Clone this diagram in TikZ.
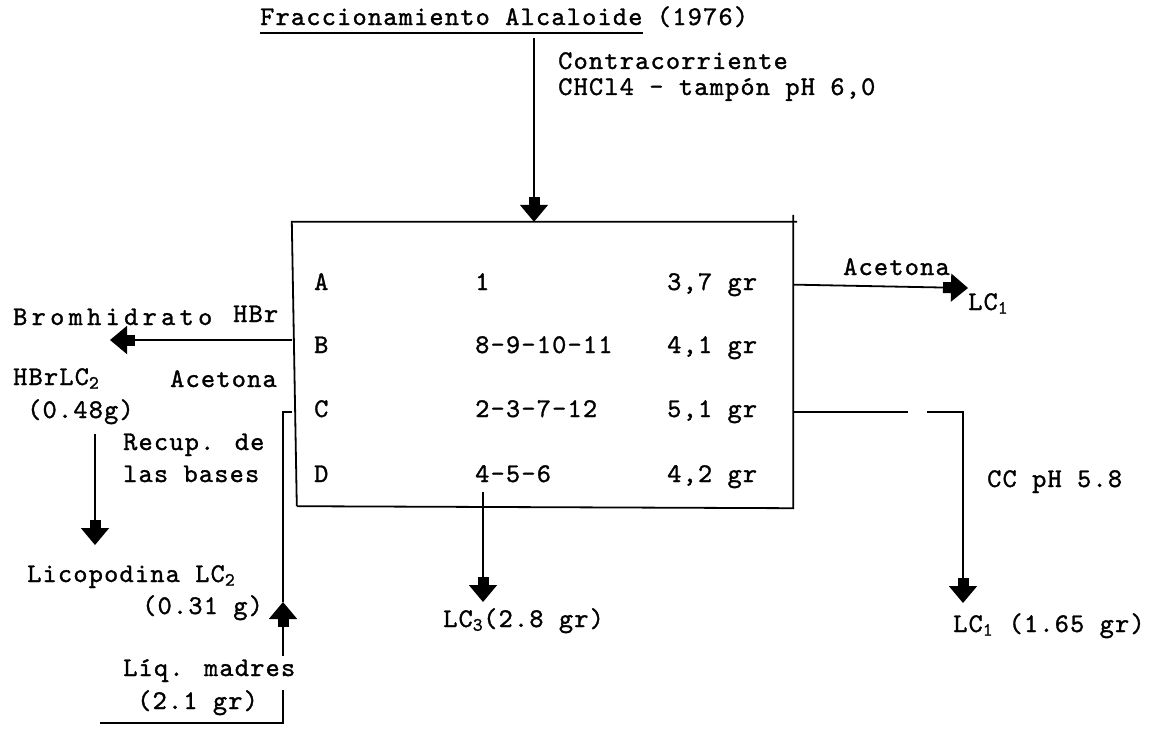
\documentclass[tikz,border=0pt]{standalone}
\usepackage{fontspec}
\newfontfamily\tw{lmmono10-regular.otf}[LetterSpace=4.5,FakeBold=1.2]
\newfontfamily\twwide{lmmono10-regular.otf}[LetterSpace=16,FakeBold=1.2]
\usetikzlibrary{arrows.meta}
\tikzset{
  lbl/.style={font=\tw\fontsize{27}{29}\selectfont, inner sep=0pt, anchor=base west},
  widelbl/.style={lbl, font=\twwide\fontsize{27}{29}\selectfont},
  wire/.style={line width=1.8pt},
  flow/.style={wire, -{Rectangle[width=11pt,length=8pt,sep=0pt]Triangle[width=28pt,length=17pt]}},
}
\begin{document}
\begin{tikzpicture}[x=1pt,y=-1pt]
\useasboundingbox (0,0) rectangle (1166,728);

% heading
\node[lbl] (titleA) at (260,25) {Fraccionamiento Alcaloide};
\node[lbl, anchor=base west] (titleB) at ([xshift=14pt]titleA.base east) {(1976)};
\draw[wire] ([yshift=-8pt]titleA.south west) -- ([yshift=-8pt]titleA.south east);

% feed into the separation
\node[lbl, align=left, anchor=north west] (feedTxt) at (558,52)
  {Contracorriente\\[-3pt]CHCl4 - tampón pH 6,0};

% fractionation table
\node[minimum width=501pt, minimum height=286pt, inner sep=0pt] (box) at (542.5,365) {};
\draw[wire] ([xshift=5pt,yshift=2pt]box.south west) -- (box.north west) -- ([xshift=4pt]box.north east);
\draw[wire] ([yshift=7pt]box.north east) -- (box.south east) -- ([xshift=5pt,yshift=2pt]box.south west);

\node[lbl] (rA) at (314,290) {A};
\node[lbl] (rB) at (314,353) {B};
\node[lbl] (rC) at (314,417) {C};
\node[lbl] (rD) at (314,482) {D};
\node[lbl] (nA) at (475,290) {1};
\node[lbl] (nB) at (475,353) {8-9-10-11};
\node[lbl] (nC) at (475,417) {2-3-7-12};
\node[lbl] (nD) at (475,482) {4-5-6};
\node[lbl] (wA) at (667,290) {3,7 gr};
\node[lbl] (wB) at (667,353) {4,1 gr};
\node[lbl] (wC) at (667,417) {5,1 gr};
\node[lbl] (wD) at (667,482) {4,2 gr};

\coordinate (feed) at (534,38);
\draw[flow] (feed) -- (feed |- box.north);

% fraction A
\node[lbl] (acetR) at (843,275) {Acetona};
\node[lbl] (lcA) at (968,310) {LC\textsubscript{1}};
\draw[flow] (box.east |- wA) -- ([yshift=5pt]lcA.north west);

% fraction B
\node[widelbl] (brom) at (13,325) {Bromhidrato};
\node[lbl] (hbr) at (233,322) {HBr};
\node[lbl] (acetL) at (170,387) {Acetona};
\node[lbl] (hbrlc) at (13,385) {HBrLC\textsubscript{2}};
\node[lbl] (hbrw) at (27,418) {(0.48g)};
\node[lbl] (recup) at (123,450) {Recup. de};
\node[lbl] (bases) at (123,482) {las bases};
\node[lbl] (licop) at (27,582) {Licopodina LC\textsubscript{2}};
\node[lbl] (licw) at (142,614) {(0.31 g)};
\coordinate (bromTip) at (110,340);
\draw[flow] (box.west |- bromTip) -- (bromTip);
\coordinate (recTop) at (95,434);
\coordinate (recTip) at (95,545);
\draw[flow] (recTop) -- (recTip);

% mother liquors back to fraction C
\node[lbl] (liq) at (123,676) {Líq. madres};
\node[lbl] (liqw) at (137,709) {(2.1 gr)};
\coordinate (mlTip) at (283,602);
\coordinate (mlLow) at (283,656);
\coordinate (mlBreak) at (283,690);
\coordinate (mlCorner) at (283,723);
\coordinate (mlEnd) at (100,723);
\draw[wire] (box.west |- wC) -| (mlTip);
\draw[flow] (mlLow) -- (mlTip);
\draw[wire] (mlBreak) -- (mlCorner) -- (mlEnd);

% fraction C
\node[lbl] (cc) at (987,487) {CC pH 5.8};
\node[lbl] (lcB) at (953,632) {LC\textsubscript{1} (1.65 gr)};
\coordinate (gapL) at (908,412);
\coordinate (gapR) at (927,412);
\coordinate (ccCorner) at (963,412);
\coordinate (ccTip) at (963,603);
\draw[wire] (box.east |- gapL) -- (gapL);
\draw[flow] (gapR) -- (ccCorner) -- (ccTip);

% fraction D
\node[lbl] (lcC) at (443,627) {LC\textsubscript{3}(2.8 gr)};
\coordinate (dOut) at (483,492);
\coordinate (dTip) at (483,602);
\draw[flow] (dOut) -- (dTip);
\end{tikzpicture}
\end{document}
